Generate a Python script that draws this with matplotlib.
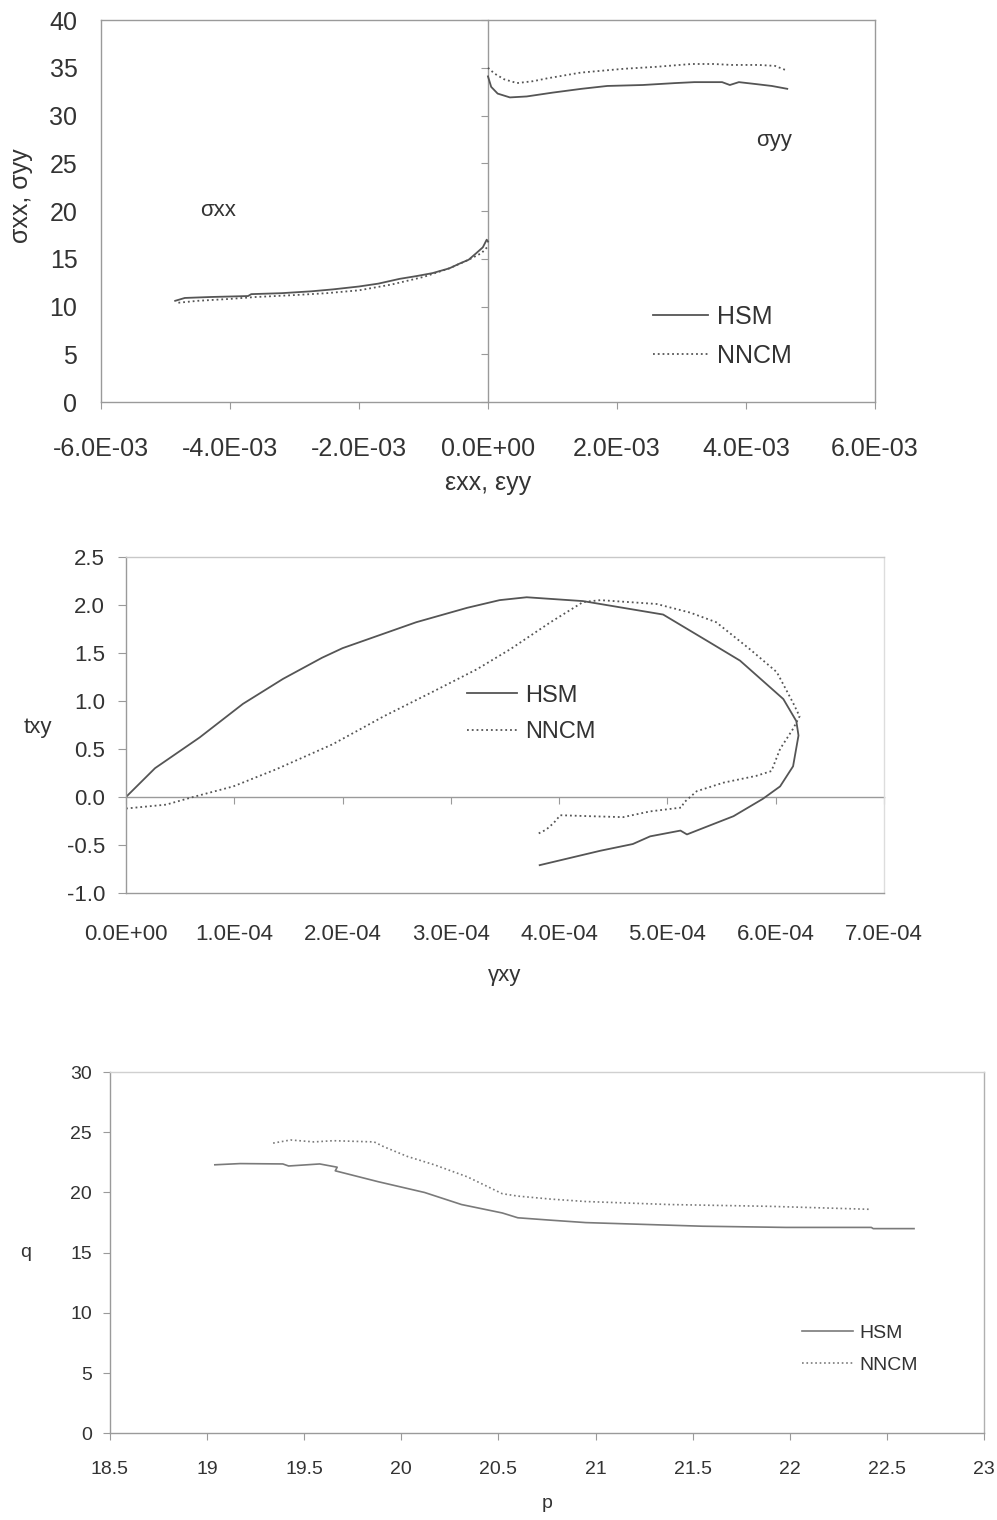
import matplotlib.pyplot as plt
from matplotlib import rcParams

rcParams['font.family'] = ['Liberation Sans', 'DejaVu Sans']
rcParams['axes.unicode_minus'] = False

# ---- chart 1: sigma vs epsilon ----
eps_xx_hsm = [-4.85e-3, -4.7e-3, -4.3e-3, -3.72e-3, -3.67e-3, -3.2e-3, -2.73e-3, -2.4e-3, -2.0e-3,
              -1.7e-3, -1.37e-3, -1.1e-3, -0.86e-3, -0.6e-3, -0.44e-3, -0.3e-3, -0.18e-3, -0.08e-3,
              -0.02e-3, 0.0]
sig_xx_hsm = [10.6, 10.9, 11.0, 11.1, 11.3, 11.4, 11.6, 11.8, 12.1, 12.4, 12.9, 13.2, 13.5, 14.0,
              14.5, 14.9, 15.6, 16.2, 17.0, 16.8]
eps_xx_nncm = [-4.8e-3, -4.5e-3, -4.0e-3, -3.6e-3, -3.0e-3, -2.5e-3, -2.0e-3, -1.5e-3, -1.0e-3,
               -0.6e-3, -0.3e-3, -0.1e-3, 0.0]
sig_xx_nncm = [10.4, 10.6, 10.8, 11.0, 11.2, 11.4, 11.7, 12.3, 13.1, 14.0, 14.9, 15.6, 16.3]

eps_yy_hsm = [0.0, 0.05e-3, 0.15e-3, 0.34e-3, 0.6e-3, 1.0e-3, 1.45e-3, 1.85e-3, 2.4e-3, 2.9e-3,
              3.2e-3, 3.63e-3, 3.75e-3, 3.89e-3, 4.15e-3, 4.4e-3, 4.64e-3]
sig_yy_hsm = [34.1, 33.0, 32.3, 31.9, 32.0, 32.4, 32.8, 33.1, 33.2, 33.4, 33.5, 33.5, 33.2, 33.5,
              33.3, 33.1, 32.8]
eps_yy_nncm = [0.0, 0.1e-3, 0.25e-3, 0.45e-3, 0.7e-3, 0.92e-3, 1.44e-3, 2.11e-3, 2.6e-3, 3.16e-3,
               3.5e-3, 3.78e-3, 4.2e-3, 4.45e-3, 4.64e-3]
sig_yy_nncm = [35.0, 34.4, 33.8, 33.4, 33.6, 33.9, 34.5, 34.9, 35.1, 35.4, 35.4, 35.3, 35.3, 35.2, 34.7]

eps_ticks = [-6e-3, -4e-3, -2e-3, 0.0, 2e-3, 4e-3, 6e-3]
eps_labels = ['-6.0E-03', '-4.0E-03', '-2.0E-03', '0.0E+00', '2.0E-03', '4.0E-03', '6.0E-03']
sig_ticks = [0, 5, 10, 15, 20, 25, 30, 35, 40]

# ---- chart 2: tau vs gamma ----
gam_hsm = [0, 0.268e-4, 0.68e-4, 1.08e-4, 1.45e-4, 1.81e-4, 2.0e-4, 2.68e-4, 3.15e-4, 3.45e-4,
           3.70e-4, 4.22e-4, 4.96e-4, 5.39e-4, 5.67e-4, 6.07e-4, 6.19e-4, 6.21e-4, 6.16e-4, 6.04e-4,
           5.88e-4, 5.61e-4, 5.27e-4, 5.18e-4, 5.12e-4, 4.84e-4, 4.68e-4, 4.38e-4, 3.82e-4]
tau_hsm = [0, 0.30, 0.62, 0.97, 1.23, 1.45, 1.55, 1.82, 1.97, 2.05, 2.08, 2.04, 1.90, 1.61, 1.42,
           1.02, 0.79, 0.64, 0.32, 0.11, -0.02, -0.20, -0.35, -0.39, -0.35, -0.41, -0.49, -0.56, -0.71]
gam_nncm = [0, 0.37e-4, 0.62e-4, 0.99e-4, 1.39e-4, 1.91e-4, 2.38e-4, 2.84e-4, 3.24e-4, 3.55e-4,
            3.92e-4, 4.22e-4, 4.38e-4, 4.90e-4, 5.21e-4, 5.45e-4, 5.76e-4, 6.01e-4, 6.16e-4, 6.22e-4,
            6.16e-4, 6.04e-4, 5.96e-4, 5.82e-4, 5.52e-4, 5.27e-4, 5.15e-4, 5.13e-4, 4.84e-4, 4.59e-4,
            4.28e-4, 4.01e-4, 3.95e-4, 3.88e-4, 3.81e-4]
tau_nncm = [-0.12, -0.08, 0.0, 0.11, 0.29, 0.55, 0.84, 1.10, 1.33, 1.54, 1.82, 2.03, 2.05, 2.01,
            1.92, 1.82, 1.54, 1.30, 0.98, 0.84, 0.71, 0.50, 0.27, 0.22, 0.15, 0.06, -0.06, -0.11,
            -0.15, -0.21, -0.20, -0.19, -0.27, -0.34, -0.38]

gam_ticks = [0, 1e-4, 2e-4, 3e-4, 4e-4, 5e-4, 6e-4, 7e-4]
gam_labels = ['0.0E+00', '1.0E-04', '2.0E-04', '3.0E-04', '4.0E-04', '5.0E-04', '6.0E-04', '7.0E-04']
tau_ticks = [-1.0, -0.5, 0.0, 0.5, 1.0, 1.5, 2.0, 2.5]
tau_labels = ['-1.0', '-0.5', '0.0', '0.5', '1.0', '1.5', '2.0', '2.5']

# ---- chart 3: q vs p ----
p_hsm = [19.04, 19.17, 19.39, 19.42, 19.58, 19.67, 19.66, 19.88, 20.12, 20.31, 20.52, 20.60, 20.77,
         20.95, 21.25, 21.55, 21.98, 22.42, 22.43, 22.64]
q_hsm = [22.3, 22.4, 22.37, 22.2, 22.37, 22.1, 21.8, 20.9, 20.0, 19.0, 18.3, 17.9, 17.7, 17.5,
         17.35, 17.2, 17.1, 17.1, 17.0, 17.0]
p_nncm = [19.34, 19.43, 19.55, 19.65, 19.86, 19.91, 20.03, 20.17, 20.34, 20.52, 20.60, 20.77, 20.95,
          21.38, 21.90, 22.42]
q_nncm = [24.1, 24.36, 24.2, 24.3, 24.2, 23.8, 23.0, 22.3, 21.3, 19.9, 19.7, 19.45, 19.25, 19.0,
          18.85, 18.6]

p_ticks = [18.5, 19, 19.5, 20, 20.5, 21, 21.5, 22, 22.5, 23]
p_labels = ['18.5', '19', '19.5', '20', '20.5', '21', '21.5', '22', '22.5', '23']
q_ticks = [0, 5, 10, 15, 20, 25, 30]

line_col = '#555555'
frame_col = '#9a9a9a'
text_col = '#333333'

fig = plt.figure(figsize=(9.97, 15.2), dpi=100)

# Chart 1
ax1 = fig.add_axes([0.1013, 0.7355, 0.7763, 0.2513])
ax1.plot(eps_xx_hsm, sig_xx_hsm, color=line_col, lw=1.3, label='HSM')
ax1.plot(eps_xx_nncm, sig_xx_nncm, color=line_col, lw=1.3, ls=':', label='NNCM')
ax1.plot(eps_yy_hsm, sig_yy_hsm, color=line_col, lw=1.3)
ax1.plot(eps_yy_nncm, sig_yy_nncm, color=line_col, lw=1.3, ls=':')
ax1.set_xlim(-6e-3, 6e-3)
ax1.set_ylim(0, 40)
ax1.set_xticks(eps_ticks)
ax1.set_xticklabels(eps_labels)
ax1.set_yticks(sig_ticks)
ax1.tick_params(axis='y', length=0, pad=17, labelsize=18, labelcolor=text_col)
ax1.tick_params(axis='x', direction='out', length=5, pad=20, labelsize=18, labelcolor=text_col,
                color=frame_col)
for s in ax1.spines.values():
    s.set_color(frame_col)
    s.set_linewidth(1.0)
# vertical axis line at eps = 0 with its tick marks
sec1 = ax1.secondary_yaxis(0.5)
sec1.set_yticks(sig_ticks)
sec1.yaxis.set_ticks_position('left')
sec1.tick_params(axis='y', direction='out', length=5, labelleft=False, labelright=False,
                 color=frame_col)
for s in sec1.spines.values():
    s.set_color(frame_col)
    s.set_linewidth(1.0)
ax1.text(-4.19e-3, 20.1, 'σxx', fontsize=16, color=text_col, ha='center', va='center')
ax1.text(4.44e-3, 27.4, 'σyy', fontsize=16, color=text_col, ha='center', va='center')
ax1.set_xlabel('εxx, εyy', fontsize=18, color=text_col)
ax1.xaxis.set_label_coords(0.5, -0.18)
ax1.set_ylabel('σxx, σyy', fontsize=18, color=text_col)
ax1.yaxis.set_label_coords(-0.088, 0.54)
leg1 = ax1.legend(loc='upper left', bbox_to_anchor=(0.713, 0.255), frameon=False, fontsize=18,
                  handlelength=2.2, handletextpad=0.35, labelspacing=0.6, borderpad=0,
                  borderaxespad=0)
for t in leg1.get_texts():
    t.set_color(text_col)

# Chart 2
ax2 = fig.add_axes([0.1264, 0.4125, 0.7603, 0.2211])
ax2.plot(gam_hsm, tau_hsm, color=line_col, lw=1.3, label='HSM')
ax2.plot(gam_nncm, tau_nncm, color=line_col, lw=1.3, ls=':', label='NNCM')
ax2.set_xlim(0, 7e-4)
ax2.set_ylim(-1.0, 2.5)
ax2.set_xticks(gam_ticks)
ax2.set_xticklabels(gam_labels)
ax2.set_yticks(tau_ticks)
ax2.set_yticklabels(tau_labels)
ax2.tick_params(axis='x', length=0, pad=22, labelsize=16, labelcolor=text_col)
ax2.tick_params(axis='y', direction='out', length=6, pad=9, labelsize=16, labelcolor=text_col,
                color=frame_col)
for s in ax2.spines.values():
    s.set_color(frame_col)
    s.set_linewidth(1.0)
ax2.spines['top'].set_color('#c8c8c8')
ax2.spines['right'].set_color('#dddddd')
# horizontal axis line at tau = 0 with its tick marks
sec2 = ax2.secondary_xaxis(1.0 / 3.5)
sec2.set_xticks(gam_ticks)
sec2.xaxis.set_ticks_position('bottom')
sec2.tick_params(axis='x', direction='out', length=5, labelbottom=False, labeltop=False,
                 color=frame_col)
for s in sec2.spines.values():
    s.set_color(frame_col)
    s.set_linewidth(1.0)
ax2.set_xlabel('γxy', fontsize=16, color=text_col)
ax2.xaxis.set_label_coords(0.5, -0.215)
ax2.set_ylabel('txy', fontsize=16, color=text_col, rotation=0, ha='center', va='center')
ax2.yaxis.set_label_coords(-0.116, 0.491)
leg2 = ax2.legend(loc='upper left', bbox_to_anchor=(0.45, 0.62), frameon=False, fontsize=17,
                  handlelength=2.1, handletextpad=0.35, labelspacing=0.6, borderpad=0,
                  borderaxespad=0)
for t in leg2.get_texts():
    t.set_color(text_col)

# Chart 3
ax3 = fig.add_axes([0.1103, 0.0570, 0.8766, 0.2377])
ax3.plot(p_hsm, q_hsm, color='#7a7a7a', lw=1.2, label='HSM')
ax3.plot(p_nncm, q_nncm, color='#7a7a7a', lw=1.2, ls=':', label='NNCM')
ax3.set_xlim(18.5, 23)
ax3.set_ylim(0, 30)
ax3.set_xticks(p_ticks)
ax3.set_xticklabels(p_labels)
ax3.set_yticks(q_ticks)
ax3.tick_params(axis='both', direction='out', length=5, labelsize=14, labelcolor=text_col,
                color=frame_col)
ax3.tick_params(axis='x', pad=15)
ax3.tick_params(axis='y', pad=8)
for s in ax3.spines.values():
    s.set_color(frame_col)
    s.set_linewidth(1.0)
ax3.spines['top'].set_color('#d0d0d0')
ax3.spines['right'].set_color('#b0b0b0')
ax3.set_xlabel('p', fontsize=14, color=text_col)
ax3.xaxis.set_label_coords(0.5, -0.17)
ax3.set_ylabel('q', fontsize=14, color=text_col, rotation=0, ha='center', va='center')
ax3.yaxis.set_label_coords(-0.097, 0.5)
leg3 = ax3.legend(loc='upper left', bbox_to_anchor=(0.792, 0.302), frameon=False, fontsize=14,
                  handlelength=2.6, handletextpad=0.35, labelspacing=0.75, borderpad=0,
                  borderaxespad=0)
for t in leg3.get_texts():
    t.set_color(text_col)

fig.savefig('out.png', dpi=100)
